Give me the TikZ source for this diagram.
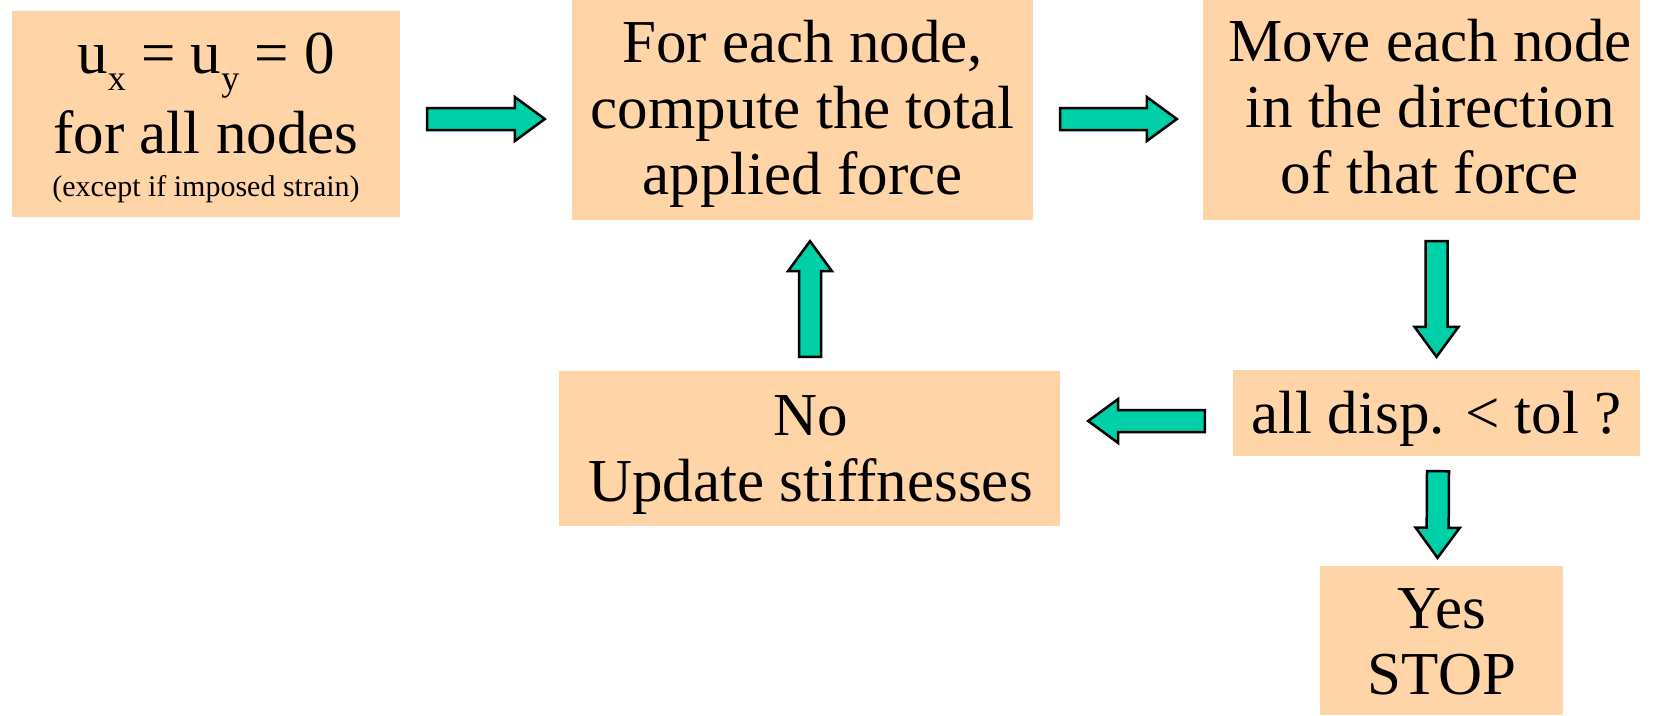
\documentclass[tikz,border=0pt]{standalone}
\usepackage{fontspec}
\setmainfont{Liberation Serif}
\usetikzlibrary{calc}
\definecolor{peach}{HTML}{FFD5A8}
\definecolor{arrteal}{HTML}{00D0A8}
\newcommand{\blockarr}[2]{%
  \coordinate (hb) at ($(#2)!30pt!(#1)$);
  \draw[barrow] ($(#1)!11pt!90:(#2)$) -- ($(hb)!11pt!-90:(#1)$) -- ($(hb)!22pt!-90:(#1)$)
    -- (#2) -- ($(hb)!22pt!90:(#1)$) -- ($(hb)!11pt!90:(#1)$) -- ($(#1)!11pt!-90:(#2)$) -- cycle;}
\newcommand{\sbx}[1]{\raisebox{-17pt}{\fontsize{36}{36}\selectfont #1}}
\tikzset{
  x=1pt, y=-1pt,
  box/.style={fill=peach, draw=none, inner sep=0pt, anchor=center},
  txt/.style={inner sep=0pt, anchor=base, font=\fontsize{61}{66}\selectfont},
  barrow/.style={fill=arrteal, draw=black, line width=2.5pt, line join=miter}
}
\begin{document}
\begin{tikzpicture}
\useasboundingbox[fill=white] (0,0) rectangle (1657,715);
% boxes
\node[box, minimum width=388pt, minimum height=206pt] (A) at (206,114) {};
\node[box, minimum width=461pt, minimum height=220pt] (B) at (802.5,110) {};
\node[box, minimum width=437pt, minimum height=220pt] (C) at (1421.5,110) {};
\node[box, minimum width=407pt, minimum height=86pt] (D) at (1436.5,413) {};
\node[box, minimum width=501pt, minimum height=155pt] (E) at (809.5,448.5) {};
\node[box, minimum width=243pt, minimum height=149pt] (F) at (1441.5,640.5) {};
% texts
\node[txt] (tA) at (206,73) {\begin{tabular}[t]{@{}c@{}}u\sbx{x} = u\sbx{y} = 0\\[14pt]for all nodes\\[-23pt]{\fontsize{30}{32}\selectfont (except if imposed strain)}\end{tabular}};
\node[txt] (tB) at (802.5,62) {\begin{tabular}[t]{@{}c@{}}For each node,\\compute the total\\applied force\end{tabular}};
\node[txt] (tC) at (1430,61) {\begin{tabular}[t]{@{}c@{}}Move each node\\in the direction\\of that force\end{tabular}};
\node[txt] (tD) at (1436.5,433) {all disp. < tol ?};
\node[txt] (tE) at (810.5,435) {\begin{tabular}[t]{@{}c@{}}No\\Update stiffnesses\end{tabular}};
\node[txt] (tF) at (1442,628) {\begin{tabular}[t]{@{}c@{}}Yes\\STOP\end{tabular}};
% arrow end points
\coordinate (ab1) at ($(A.east)+(27,5)$);
\coordinate (ab2) at ($(B.west)+(-27,9)$);
\coordinate (bc1) at ($(B.east)+(27,9)$);
\coordinate (bc2) at ($(C.west)+(-26,9)$);
\coordinate (cd1) at ($(C.south -| D.north)+(0,21)$);
\coordinate (cd2) at ($(D.north)+(0,-13)$);
\coordinate (df1) at ($(D.south)+(1.5,15)$);
\coordinate (df2) at ($(F.north)+(-4,-8)$);
\coordinate (de1) at ($(D.west)+(-28,8)$);
\coordinate (de2) at ($(E.east)+(28,-27.5)$);
\coordinate (eb1) at ($(E.north)+(0.5,-14)$);
\coordinate (eb2) at ($(B.south)+(7.5,21)$);
% arrows
\blockarr{ab1}{ab2}
\blockarr{bc1}{bc2}
\blockarr{cd1}{cd2}
\blockarr{df1}{df2}
\blockarr{de1}{de2}
\blockarr{eb1}{eb2}
\end{tikzpicture}
\end{document}
